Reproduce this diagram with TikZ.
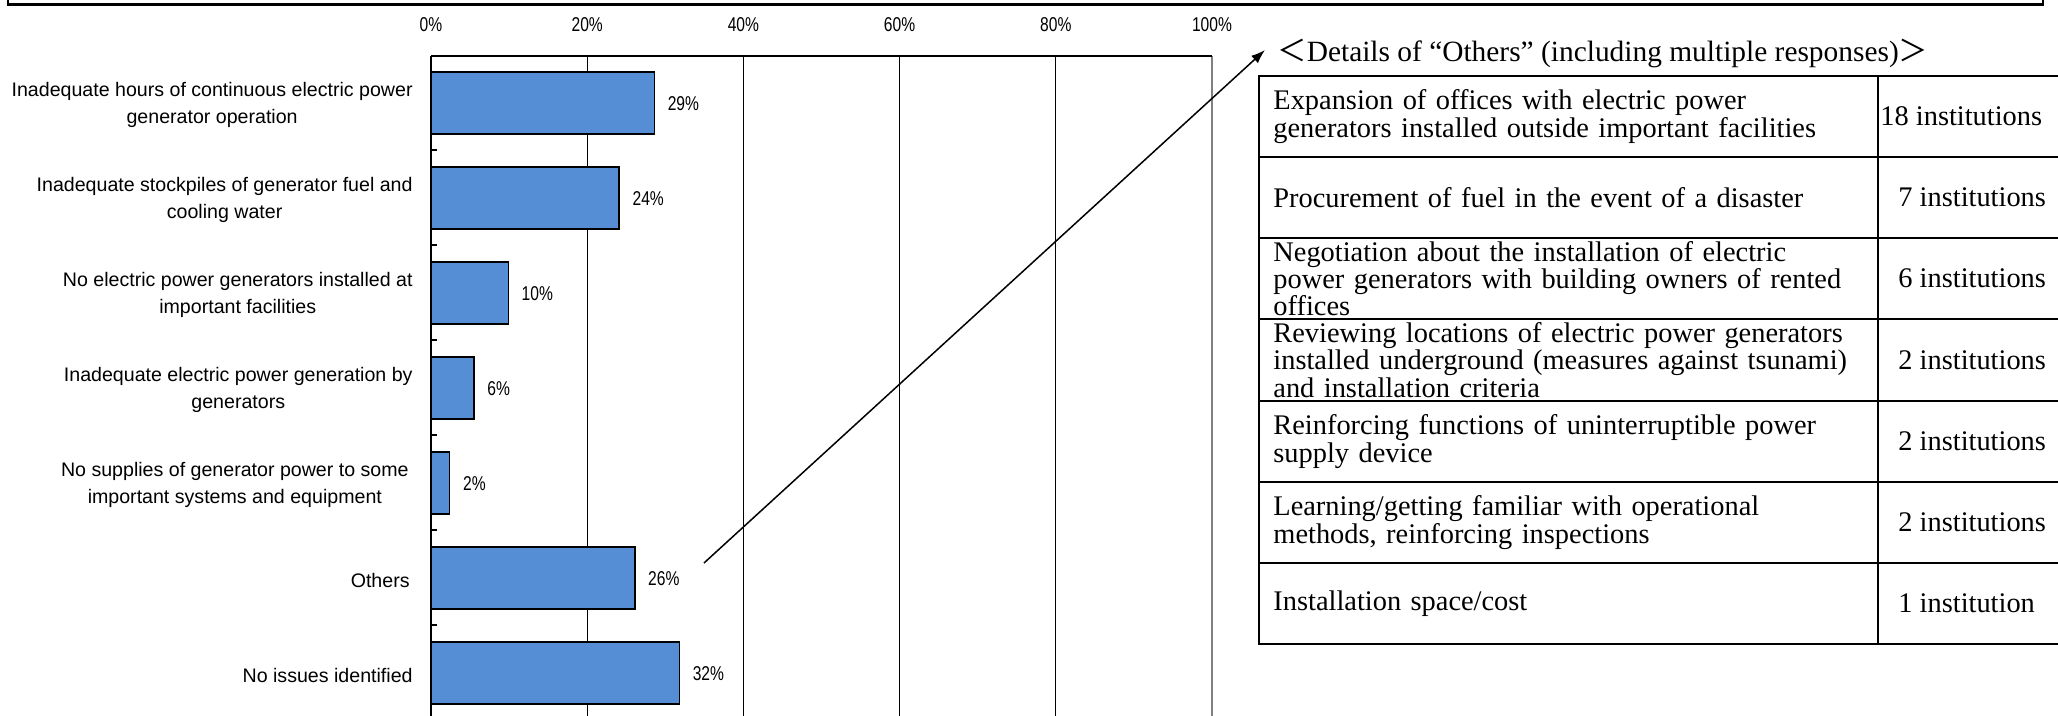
\documentclass[tikz,border=0pt]{standalone}
\usepackage{fontspec}
\setmainfont{Liberation Serif}
\newfontfamily\labfont{Liberation Sans}
\newfontfamily\pctfont[FakeStretch=0.78]{Liberation Sans}
\newfontfamily\cjkfont{Noto Sans CJK JP}
\usetikzlibrary{arrows.meta}
\definecolor{barblue}{RGB}{85,142,213}
\definecolor{framegray}{RGB}{128,128,128}
\begin{document}
\begin{tikzpicture}[x=0.5pt,y=-0.5pt,
  catlabel/.style={anchor=east, align=center, inner sep=0pt, font=\labfont\fontsize{9.8}{13.5}\selectfont},
  pctlabel/.style={anchor=west, inner sep=0pt, font=\pctfont\fontsize{10}{12}\selectfont},
  axlabel/.style={inner sep=0pt, font=\pctfont\fontsize{10}{12}\selectfont},
  barbox/.style={draw=black, line width=0.75pt, fill=barblue},
  gridline/.style={line width=0.6pt},
  axisline/.style={line width=1pt},
  cell/.style={anchor=west, align=left, text width=330pt, inner sep=0pt, font=\fontsize{14.2}{13.6}\selectfont},
  count/.style={anchor=west, inner sep=0pt, font=\fontsize{14.2}{13.6}\selectfont},
  tline/.style={line width=1.2pt},
  arr/.style={line width=0.75pt, -{Latex[length=7pt,width=5pt]}}
]
\useasboundingbox (0,0) rectangle (2058,716);
% top frame (cut off)
\draw[line width=1.4pt] (8,0) -- (8,4.5) -- (2043,4.5) -- (2043,0);
% grid
\foreach \p in {20,40,60,80}{
  \draw[gridline] ({431+7.81*\p},56) -- ({431+7.81*\p},716);
}
\draw[gridline, framegray] (1212,56) -- (1212,716);
% axis labels
\foreach \k/\t in {0/0,1/20,2/40,3/60,4/80,5/100}{
  \node[axlabel] (ax\k) at ({431+156.2*\k},25) {\t\%};
}
% bars
\foreach \i/\v/\t in {1/28.6/29,2/24.1/24,3/9.9/10,4/5.5/6,5/2.4/2,6/26.1/26,7/31.8/32}{
  \pgfmathsetmacro\yc{103+95*(\i-1)}
  \pgfmathsetmacro\xr{431+7.81*\v}
  \draw[barbox] (431,\yc-31) rectangle (\xr,\yc+31);
  \node[pctlabel] (pct\i) at (\xr+13,\yc+1) {\t\%};
}
% frame and axis
\draw[axisline] (431,56) -- (1212,56);
\draw[axisline] (431,56) -- (431,716);
\foreach \k in {0,...,5}{
  \draw[line width=0.7pt] (431,150+95*\k) -- (437,150+95*\k);
}
% category labels
\node[catlabel] (lab1) at (413,105) {Inadequate hours of continuous electric power\\generator operation};
\node[catlabel] (lab2) at (413,200) {Inadequate stockpiles of generator fuel and\\cooling water};
\node[catlabel] (lab3) at (413,295) {No electric power generators installed at\\important facilities};
\node[catlabel] (lab4) at (413,390) {Inadequate electric power generation by\\generators};
\node[catlabel] (lab5) at (409,485) {No supplies of generator power to some\\important systems and equipment};
\node[catlabel] (lab6) at (410,580) {Others};
\node[catlabel] (lab7) at (413,675) {No issues identified};
% title
\node[anchor=west, inner sep=0pt, font=\fontsize{14.7}{16}\selectfont] (title) at (1277,53)
  {{\cjkfont ＜}Details of “Others” (including multiple responses){\cjkfont ＞}};
% arrow
\coordinate (astart) at (704,563);
\draw[arr] (astart) -- ([xshift=-6pt,yshift=1.5pt]title.west);
% table
\draw[tline] (2058,76) -- (1259,76) -- (1259,644) -- (2058,644);
\foreach \y in {157,238,319,401,482,563}{
  \draw[tline] (1259,\y) -- (2058,\y);
}
\draw[tline] (1878,76) -- (1878,644);
\node[cell] (c1) at (1273,116.5) {Expansion of offices with electric power\\generators installed outside important facilities};
\node[cell] (c2) at (1273,197.5) {Procurement of fuel in the event of a disaster};
\node[cell] (c3) at (1273,278.5) {Negotiation about the installation of electric\\power generators with building owners of rented\\offices};
\node[cell] (c4) at (1273,360) {Reviewing locations of electric power generators\\installed underground (measures against tsunami)\\and installation criteria};
\node[cell] (c5) at (1273,441.5) {Reinforcing functions of uninterruptible power\\supply device};
\node[cell] (c6) at (1273,522.5) {Learning/getting familiar with operational\\methods, reinforcing inspections};
\node[cell] (c7) at (1273,603.5) {Installation space/cost};
\node[count] (n1) at (1880,116.5) {18 institutions};
\node[count] (n2) at (1898,197.5) {7 institutions};
\node[count] (n3) at (1898,278.5) {6 institutions};
\node[count] (n4) at (1898,360) {2 institutions};
\node[count] (n5) at (1898,441.5) {2 institutions};
\node[count] (n6) at (1898,522.5) {2 institutions};
\node[count] (n7) at (1898,603.5) {1 institution};
\end{tikzpicture}
\end{document}
